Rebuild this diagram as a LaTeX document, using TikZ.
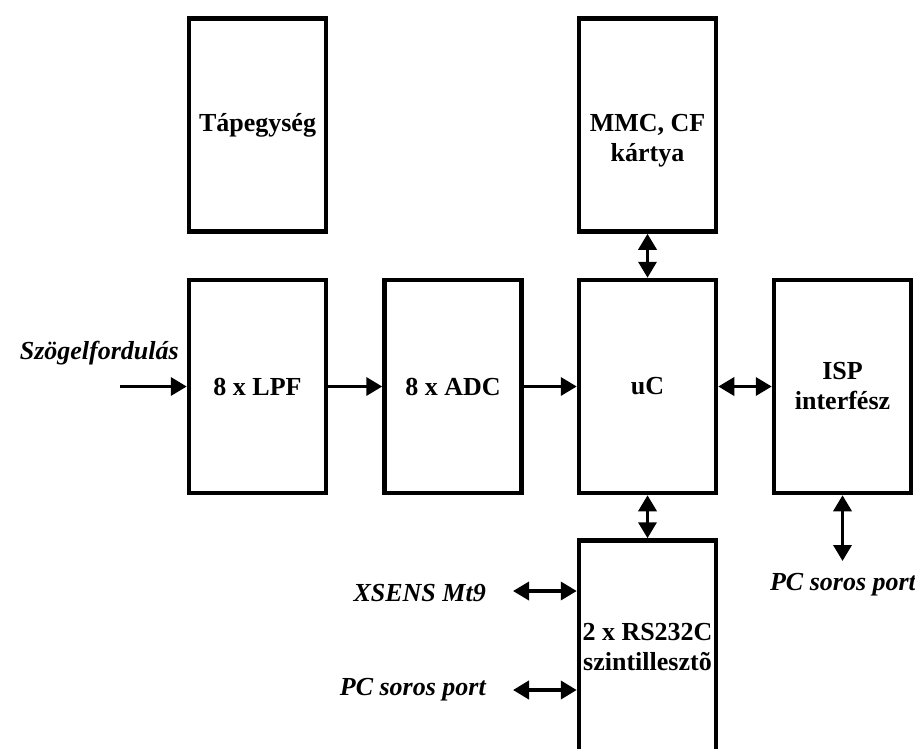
\documentclass[tikz,border=0pt]{standalone}
\usepackage{fontspec}
\setmainfont{Liberation Serif}
\usepackage{tikz}
\usetikzlibrary{arrows.meta}

\begin{document}
\begin{tikzpicture}[x=1pt, y=-1pt,
	blokk/.style={draw, line width=4.5pt, minimum width=137pt, minimum height=213pt, align=center, font=\fontsize{26}{30}\selectfont\bfseries},
	felirat/.style={font=\fontsize{26}{30}\selectfont\bfseries\itshape, inner sep=0pt},
	nyil/.style={line width=3.5pt, -{Triangle[length=16pt,width=18pt]}},
	kettos/.style={line width=3.5pt, {Triangle[length=16pt,width=18pt]}-{Triangle[length=16pt,width=18pt]}}]
	\useasboundingbox (0,0) rectangle (915,749);
	\clip (0,0) rectangle (915,749);
	
	\foreach \x/\y/\nev/\szoveg in {
		257.5/125/tap/T\'apegys\'eg,
		453/386.5/adc/8 x ADC,
		257.5/386.5/lpf/8 x LPF,
		647.5/386.5/uc/uC,
		842.5/386.5/isp/ISP\\interf\'esz,
		647.5/647/rs/2 x RS232C\\szintilleszt\~o
	}
	{
		\node [blokk] at (\x,\y) (\nev) {\szoveg};
	}
	\node [blokk] at (647.5,125) (mmc) {};
	\node [font=\fontsize{26}{30}\selectfont\bfseries, align=center] at (647.5,141) (mmctext) {MMC, CF\\k\'artya};
	
	% feliratok
	\node [felirat, anchor=east] at (179,353) (szog) {Sz\"ogelfordul\'as};
	\node [felirat, anchor=east] at (486,593) (xsens) {XSENS Mt9};
	\node [felirat, anchor=east] at (486,690) (pcrs) {PC soros port};
	\node [felirat] at (843,585) (pcisp) {PC soros port};
	\coordinate (be) at (120,386.5);
	\coordinate (ispveg) at (842.5,561);
	\coordinate (xsveg) at (513,591);
	\coordinate (pcveg) at (513,690);
	
	\draw [nyil] (be) -- (lpf.west);
	\draw [nyil] (lpf) -- (adc);
	\draw [nyil] (adc) -- (uc);
	\draw [kettos] (uc) -- (isp);
	\draw [kettos] (mmc) -- (uc);
	\draw [kettos] (uc) -- (rs.north);
	\draw [kettos] (isp) -- (ispveg);
	\draw [kettos] (xsveg) -- (xsveg -| rs.west);
	\draw [kettos, line width=4pt] (pcveg) -- (pcveg -| rs.west);
\end{tikzpicture}
\end{document}
